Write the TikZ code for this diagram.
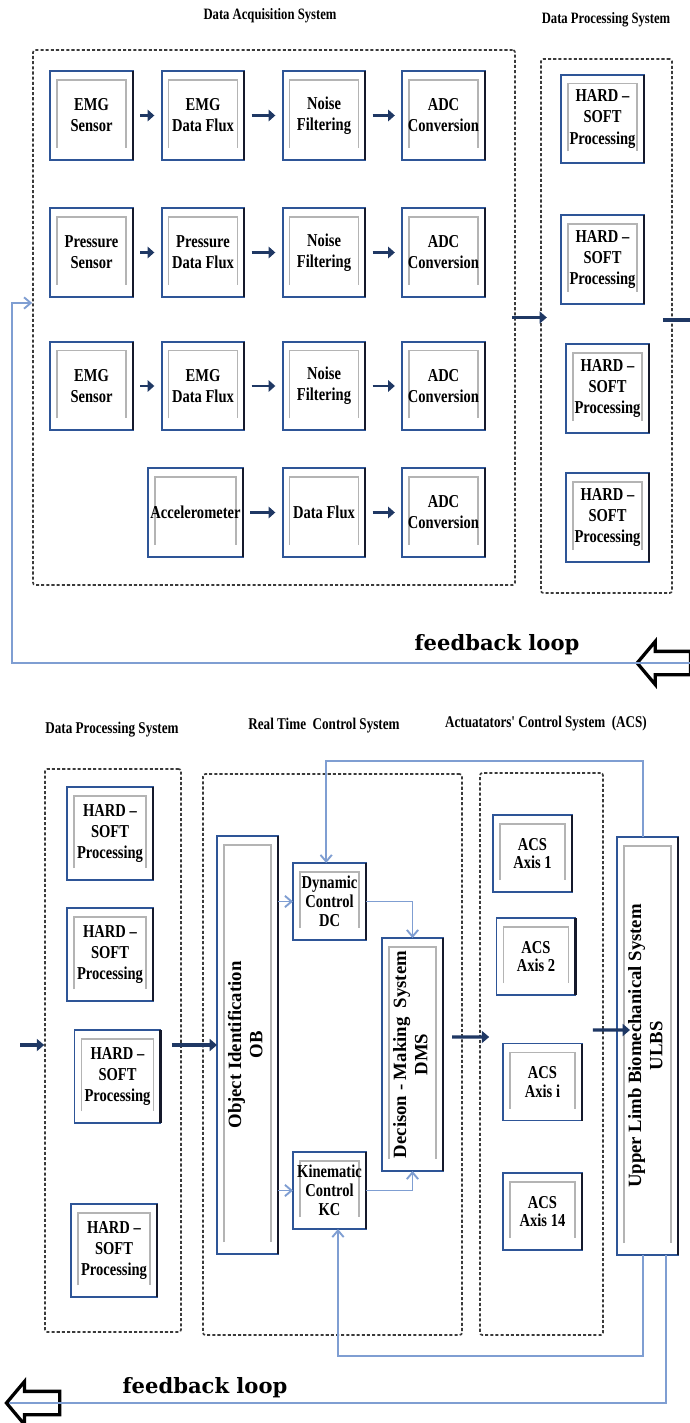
\documentclass[tikz,border=0pt]{standalone}
\usepackage{fontspec}
\setmainfont{Liberation Serif}
\newfontfamily\boxfont{Liberation Serif}[FakeStretch=0.8]
\newfontfamily\loopfont{DejaVu Serif}
\usepackage{tikz}
\usetikzlibrary{arrows.meta,positioning,fit,shapes.arrows}

\definecolor{boxblue}{HTML}{2E5597}
\definecolor{boxdark}{HTML}{15192B}
\definecolor{innergray}{HTML}{B4B4B4}
\definecolor{fbblue}{HTML}{7F9ED2}
\definecolor{flownavy}{HTML}{1F3864}
\definecolor{dashgray}{HTML}{3A3A3A}

\tikzset{
  blockbox/.style={draw=boxblue, line width=1.5pt, outer sep=0pt, fill=white, align=center,
    minimum width=24.8mm, minimum height=26.6mm, inner sep=1pt,
    font=\boxfont\bfseries\fontsize{15.5}{18}\selectfont,
    path picture={\draw[innergray, line width=1.2pt]
      ([xshift=2.1mm,yshift=3.6mm]path picture bounding box.south west) |-
      ([xshift=-2.1mm,yshift=-2.7mm]path picture bounding box.north east) --
      ([xshift=-2.1mm,yshift=3.6mm]path picture bounding box.south east);},
    append after command={(\tikzlastnode.north east) edge[draw=boxdark, line width=1.9pt] (\tikzlastnode.south east)}},
  smallbox/.style={blockbox, minimum width=21.9mm, minimum height=23.1mm, font=\boxfont\bfseries\fontsize{15.5}{16}\selectfont},
  tallbox/.style={blockbox, minimum width=18.3mm, font=\bfseries\fontsize{16}{18}\selectfont},
  groupbox/.style={draw=dashgray, line width=1.4pt, dash pattern=on 2.6pt off 1.8pt, rounded corners=2pt, inner sep=0pt},
  flowarrow/.style={draw=flownavy, line width=2.2pt, -{Triangle[length=2mm,width=3.4mm]}, shorten >=2.2mm, shorten <=2.2mm},
  bigarrow/.style={draw=flownavy, line width=2.8pt, -{Triangle[length=2.2mm,width=3.6mm]}},
  fbline/.style={draw=fbblue, line width=1.6pt},
  fbarrow/.style={fbline, -{Straight Barb[length=2mm,width=3.4mm]}},
  fbhollow/.style={single arrow, draw=black, line width=2.8pt, shape border rotate=180, minimum height=16mm, minimum width=12mm, single arrow head extend=3mm, single arrow tip angle=100, inner xsep=0pt, inner ysep=3mm, fill=white},
  titletext/.style={font=\boxfont\bfseries\fontsize{13.5}{15}\selectfont, inner sep=0pt},
  looptext/.style={font=\loopfont\bfseries\fontsize{18}{20}\selectfont, inner sep=0pt}
}

\begin{document}
\begin{tikzpicture}[x=0.3mm, y=-0.3mm]
\fill[white] (0,0) rectangle (689,1423);
\path[use as bounding box] (0,0) rectangle (689,1423);

% acquisition and processing (top)
\node[titletext] (daqTitle) at (270,16) {Data Acquisition System};
\node[titletext] (dpsTitleA) at (606,20) {Data Processing System};
\node[groupbox, fit={(33,50) (515,585)}] (daq) {};
\node[groupbox, fit={(541,59) (672,593)}] (dpsA) {};

\node[blockbox] (emgSensorA) at (91.5,115.5) {EMG\\Sensor};
\node[blockbox] (emgFluxA) at (203,115.5) {EMG\\Data Flux};
\node[blockbox] (noiseA) at (324,115.5) {Noise\\Filtering};
\node[blockbox] (adcA) at (443.5,115.5) {ADC\\Conversion};
\node[blockbox] (pressSensor) at (91.5,252.5) {Pressure\\Sensor};
\node[blockbox] (pressFlux) at (203,252.5) {Pressure\\Data Flux};
\node[blockbox] (noiseB) at (324,252.5) {Noise\\Filtering};
\node[blockbox] (adcB) at (443.5,252.5) {ADC\\Conversion};
\node[blockbox] (emgSensorC) at (91.5,386) {EMG\\Sensor};
\node[blockbox] (emgFluxC) at (203,386) {EMG\\Data Flux};
\node[blockbox] (noiseC) at (324,386) {Noise\\Filtering};
\node[blockbox] (adcC) at (443.5,386) {ADC\\Conversion};
\node[blockbox, minimum width=28.5mm] (accel) at (195.5,512.5) {Accelerometer};
\node[blockbox] (accelFlux) at (324,512.5) {Data Flux};
\node[blockbox] (adcD) at (443.5,512.5) {ADC\\Conversion};

\draw[flowarrow] (emgSensorA) -- (emgFluxA);
\draw[flowarrow] (emgFluxA) -- (noiseA);
\draw[flowarrow] (noiseA) -- (adcA);
\draw[flowarrow] (pressSensor) -- (pressFlux);
\draw[flowarrow] (pressFlux) -- (noiseB);
\draw[flowarrow] (noiseB) -- (adcB);
\draw[flowarrow] (emgSensorC) -- (emgFluxC);
\draw[flowarrow] (emgFluxC) -- (noiseC);
\draw[flowarrow] (noiseC) -- (adcC);
\draw[flowarrow] (accel) -- (accelFlux);
\draw[flowarrow] (accelFlux) -- (adcD);

\node[blockbox] (hsA) at (602.5,119) {HARD –\\SOFT\\Processing};
\node[blockbox] (hsB) at (602.5,259.5) {HARD –\\SOFT\\Processing};
\node[blockbox] (hsC) at (607.5,388.5) {HARD –\\SOFT\\Processing};
\node[blockbox] (hsD) at (607.5,517.5) {HARD –\\SOFT\\Processing};

\draw[bigarrow] ([xshift=-1mm]daq.east) -- ([xshift=2mm]daq.east -| dpsA.west);
\draw[bigarrow] ([xshift=-3mm,yshift=1.8mm]dpsA.east) -- ++(40,0);

\node[looptext] (loopTextA) at (497,645) {feedback loop};
\node[fbhollow] (fbArrowT) at (668.7,663) {};
\draw[fbarrow] (fbArrowT.tail) -- (fbArrowT.tip) -- ++(-623,0) |- ([yshift=4.35mm]daq.west);

% processing, control and actuators (bottom)
\node[titletext, font=\boxfont\bfseries\fontsize{14}{16}\selectfont] (dpsTitleB) at (112,730) {Data Processing System};
\node[titletext, font=\boxfont\bfseries\fontsize{14}{16}\selectfont] (rtcsTitle) at (324,726) {Real Time\ \ Control System};
\node[titletext, font=\boxfont\bfseries\fontsize{14}{16}\selectfont] (acsTitle) at (546,724) {Actuatators' Control System\ \ (ACS)};
\node[groupbox, fit={(45,769) (181,1332)}] (dpsB) {};
\node[groupbox, fit={(203,774) (462,1335)}] (rtcs) {};
\node[groupbox, fit={(480,773) (603,1335)}] (acs) {};

\node[blockbox, minimum width=25.8mm, minimum height=27.9mm] (hsE) at (110,833.5) {HARD –\\SOFT\\Processing};
\node[blockbox, minimum width=25.8mm, minimum height=27.9mm] (hsF) at (110,954.5) {HARD –\\SOFT\\Processing};
\node[blockbox, minimum width=25.8mm, minimum height=27.9mm] (hsG) at (117.5,1076.5) {HARD –\\SOFT\\Processing};
\node[blockbox, minimum width=25.8mm, minimum height=27.9mm] (hsH) at (114,1250.5) {HARD –\\SOFT\\Processing};

\node[tallbox, minimum height=125.4mm] (objId) at (247.5,1045) {\rotatebox{90}{\begin{tabular}{@{}c@{}}Object Identification\\OB\end{tabular}}};
\node[smallbox] (dynCtrl) at (329.5,901.5) {Dynamic\\Control\\DC};
\node[smallbox] (kinCtrl) at (329.5,1190.5) {Kinematic\\Control\\KC};
\node[tallbox, minimum height=69.9mm] (dms) at (412.5,1054.5) {\rotatebox{90}{\begin{tabular}{@{}c@{}}Decison - Making\ \ System\\DMS\end{tabular}}};

\node[smallbox, minimum width=23.7mm] (acsOne) at (532.5,853.5) {ACS\\Axis 1};
\node[smallbox, minimum width=23.7mm] (acsTwo) at (536,956.5) {ACS\\Axis 2};
\node[smallbox, minimum width=23.7mm] (acsI) at (542.5,1082) {ACS\\Axis i};
\node[smallbox, minimum width=23.7mm] (acsFourteen) at (542.5,1211.5) {ACS\\Axis 14};
\node[tallbox, minimum height=125.4mm] (ulbs) at (647.5,1046) {\rotatebox{90}{\begin{tabular}{@{}c@{}}Upper Limb Biomechanical System\\ULBS\end{tabular}}};

\coordinate (dpsIn) at (20,1045);
\draw[bigarrow] (dpsIn) -- (dpsIn -| dpsB.west);
\draw[bigarrow] ([xshift=-3mm]dpsB.east |- dpsIn) -- (objId.west |- dpsIn);
\draw[bigarrow] ([xshift=2.7mm,yshift=5.25mm]dms.east) -- ([xshift=3mm,yshift=5.1mm]acs.west);
\draw[bigarrow] ([xshift=-3.3mm,yshift=7.2mm]acs.east) -- ([xshift=3.9mm,yshift=4.8mm]ulbs.west);

\draw[fbarrow] (objId.east |- dynCtrl.west) -- (dynCtrl.west);
\draw[fbarrow] (objId.east |- kinCtrl.west) -- (kinCtrl.west);
\draw[fbarrow] (dynCtrl.east) -| (dms.north);
\draw[fbarrow] (kinCtrl.east) -| (dms.south);
\draw[fbarrow] ([xshift=-1.35mm]ulbs.north) -- ++(0,-76) -| ([xshift=-1mm]dynCtrl.north);
\draw[fbarrow] ([xshift=-1.35mm]ulbs.south) -- ++(0,101) -| ([xshift=2.55mm]kinCtrl.south);

\node[looptext] (loopTextB) at (205,1388) {feedback loop};
\node[fbhollow] (fbArrowB) at (38,1403) {};
\draw[fbline] ([xshift=5.55mm]ulbs.south) |- (fbArrowB.tail) -- ([xshift=1.5mm]fbArrowB.tip);
\end{tikzpicture}
\end{document}
